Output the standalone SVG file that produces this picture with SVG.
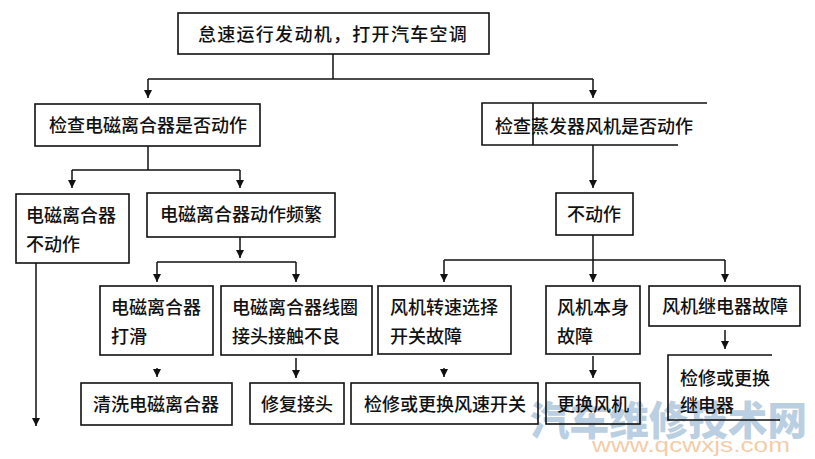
<svg xmlns="http://www.w3.org/2000/svg" width="815" height="459" viewBox="0 0 815 459">
<style>
.b{fill:none;stroke:#111;stroke-width:1.6}
.c{fill:none;stroke:#111;stroke-width:1.5}
.t{font-family:"Noto Sans CJK SC","Noto Sans CJK JP",sans-serif;font-size:18px;fill:#111;font-weight:500}
.wm{font-family:"Noto Sans CJK SC",sans-serif;font-weight:900;font-size:40px;fill:#9fbcd6;opacity:0.7}
.url{font-family:"Liberation Sans",Arial,sans-serif;font-size:21px;fill:#f2c49a;opacity:0.85}
</style>
<defs>
<marker id="ah" viewBox="0 0 8 10" refX="8" refY="5" markerWidth="8" markerHeight="10" markerUnits="userSpaceOnUse" orient="auto">
<path d="M0,1 L8,5 L0,9 Z" fill="#111"/>
</marker>
</defs>
<rect width="815" height="459" fill="#fff"/>
<g id="watermark">
<text class="wm" x="530" y="435" textLength="277" lengthAdjust="spacingAndGlyphs">汽车维修技术网</text>
<text class="url" x="592" y="452" textLength="198" lengthAdjust="spacingAndGlyphs">www.qcwxjs.com</text>
</g>
<g id="connectors">
<path class="c" d="M333,54 V79"/>
<path class="c" d="M148,79 H593"/>
<path class="c" d="M148,79 V98" marker-end="url(#ah)"/>
<path class="c" d="M593,79 V98" marker-end="url(#ah)"/>
<path class="c" d="M148,146 V170"/>
<path class="c" d="M72,170 H240"/>
<path class="c" d="M72,170 V188" marker-end="url(#ah)"/>
<path class="c" d="M240,170 V188" marker-end="url(#ah)"/>
<path class="c" d="M36,263 V426" marker-end="url(#ah)"/>
<path class="c" d="M240,237 V258" marker-end="url(#ah)"/>
<path class="c" d="M157,262 H296"/>
<path class="c" d="M157,262 V282" marker-end="url(#ah)"/>
<path class="c" d="M296,262 V282" marker-end="url(#ah)"/>
<path class="c" d="M157,368 V377" marker-end="url(#ah)"/>
<path class="c" d="M296,358 V378" marker-end="url(#ah)"/>
<path class="c" d="M593,145 V188" marker-end="url(#ah)"/>
<path class="c" d="M593,235 V260"/>
<path class="c" d="M444,260 H725"/>
<path class="c" d="M444,260 V282" marker-end="url(#ah)"/>
<path class="c" d="M593,260 V282" marker-end="url(#ah)"/>
<path class="c" d="M725,260 V282" marker-end="url(#ah)"/>
<path class="c" d="M444,368 V377" marker-end="url(#ah)"/>
<path class="c" d="M593,356 V378" marker-end="url(#ah)"/>
<path class="c" d="M725,330 V349" marker-end="url(#ah)"/>
</g>
<g id="n-start">
<rect class="b" x="178" y="13" width="311" height="41"/>
<text class="t" x="333" y="41" text-anchor="middle" font-size="19" letter-spacing="1.3">怠速运行发动机，打开汽车空调</text>
</g>
<g id="n-check-clutch">
<rect class="b" x="35" y="104" width="225" height="42"/>
<text class="t" x="148" y="132" text-anchor="middle">检查电磁离合器是否动作</text>
</g>
<g id="n-check-fan">
<path class="b" d="M533,103 H482 V145 H533 V103 H707 M533,145 H678"/>
<text class="t" x="495" y="133">检查蒸发器风机是否动作</text>
</g>
<g id="n-clutch-no">
<rect class="b" x="16" y="194" width="113" height="69"/>
<text class="t" x="26" y="222">电磁离合器</text>
<text class="t" x="26" y="251">不动作</text>
</g>
<g id="n-clutch-freq">
<rect class="b" x="147" y="193" width="188" height="44"/>
<text class="t" x="241" y="221" text-anchor="middle">电磁离合器动作频繁</text>
</g>
<g id="n-slip">
<rect class="b" x="100" y="286" width="113" height="69"/>
<text class="t" x="111" y="314">电磁离合器</text>
<text class="t" x="111" y="343">打滑</text>
</g>
<g id="n-coil">
<rect class="b" x="221" y="286" width="151" height="69"/>
<text class="t" x="232" y="314">电磁离合器线圈</text>
<text class="t" x="232" y="343">接头接触不良</text>
</g>
<g id="n-clean">
<rect class="b" x="81" y="383" width="151" height="42"/>
<text class="t" x="156" y="411" text-anchor="middle">清洗电磁离合器</text>
</g>
<g id="n-repair">
<rect class="b" x="250" y="383" width="94" height="41"/>
<text class="t" x="297" y="411" text-anchor="middle">修复接头</text>
</g>
<g id="n-fan-no">
<rect class="b" x="556" y="193" width="77" height="42"/>
<text class="t" x="594" y="221" text-anchor="middle">不动作</text>
</g>
<g id="n-switch">
<rect class="b" x="378" y="286" width="133" height="68"/>
<text class="t" x="390" y="314">风机转速选择</text>
<text class="t" x="390" y="343">开关故障</text>
</g>
<g id="n-fan-self">
<rect class="b" x="546" y="286" width="94" height="68"/>
<text class="t" x="557" y="314">风机本身</text>
<text class="t" x="557" y="343">故障</text>
</g>
<g id="n-relay">
<rect class="b" x="649" y="286" width="151" height="40"/>
<text class="t" x="725" y="313" text-anchor="middle">风机继电器故障</text>
</g>
<g id="n-fix-switch">
<rect class="b" x="351" y="383" width="187" height="41"/>
<text class="t" x="445" y="411" text-anchor="middle">检修或更换风速开关</text>
</g>
<g id="n-replace-fan">
<rect class="b" x="546" y="383" width="94" height="41"/>
<text class="t" x="593" y="411" text-anchor="middle">更换风机</text>
</g>
<g id="n-fix-relay">
<path class="b" d="M772,355 H668 V420 H780"/>
<text class="t" x="680" y="385">检修或更换</text>
<text class="t" x="680" y="412">继电器</text>
</g>
</svg>
